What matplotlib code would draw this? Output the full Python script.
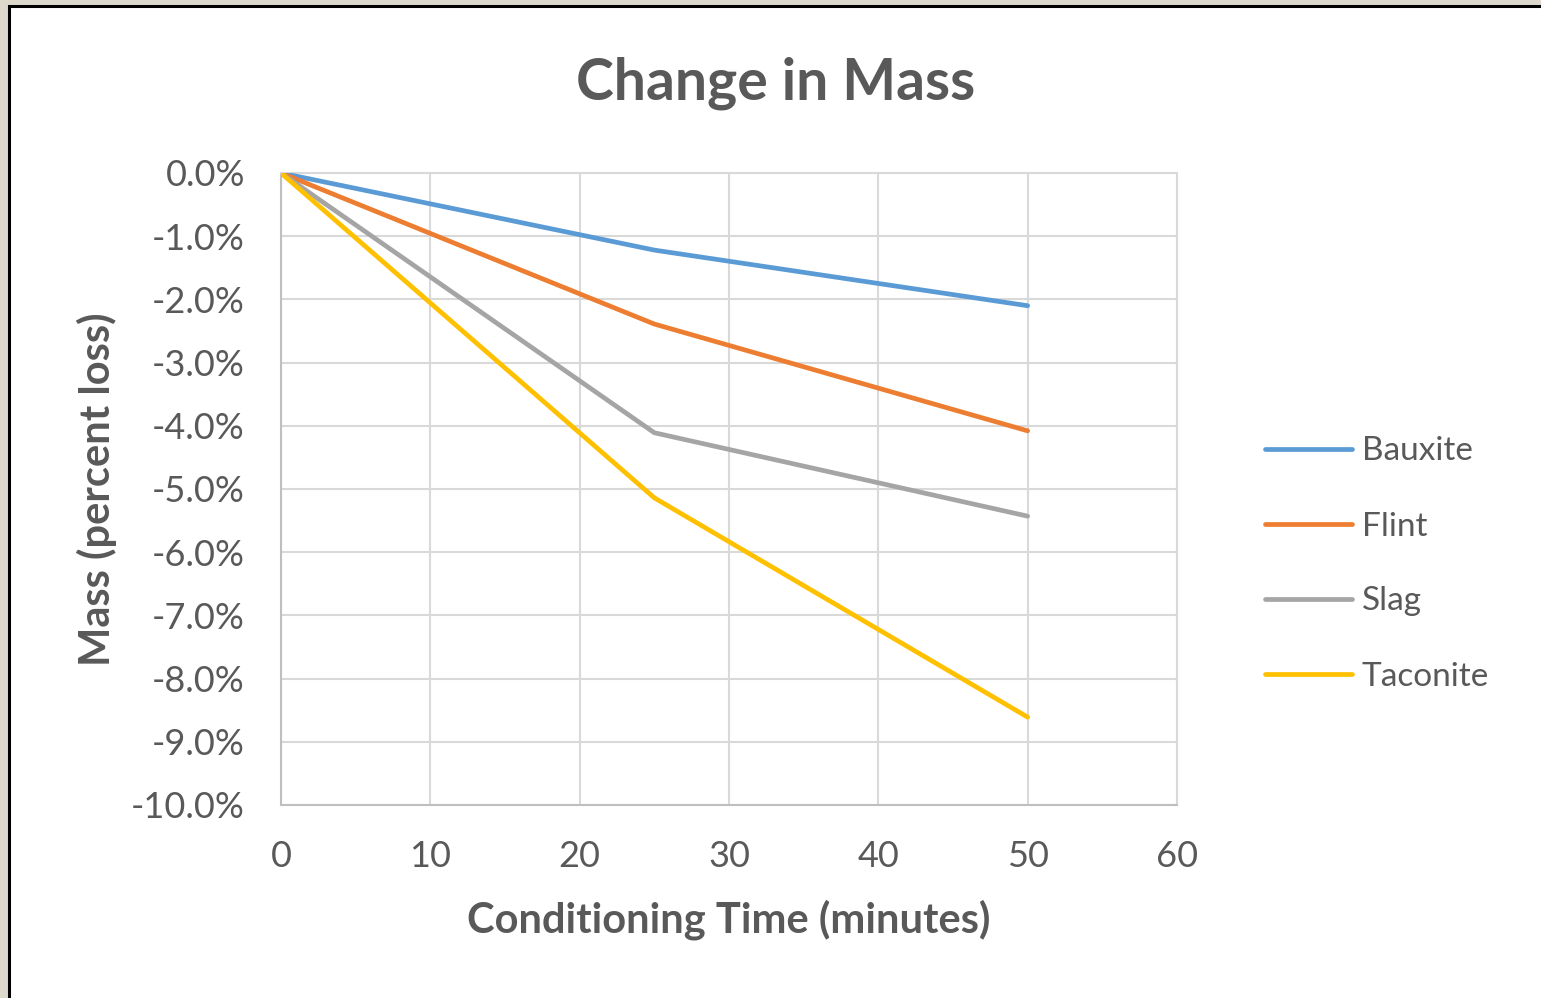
import numpy as np
import matplotlib.pyplot as plt
from matplotlib.patches import Rectangle
from matplotlib.ticker import FuncFormatter

plt.rcParams["font.family"] = ["Lato", "DejaVu Sans"]
plt.rcParams["axes.unicode_minus"] = False

# conditioning time (minutes) and mass change (%)
minutes = [0, 25, 50]
bauxite = [0.0, -1.22, -2.10]
flint = [0.0, -2.39, -4.08]
slag = [0.0, -4.11, -5.43]
taconite = [0.0, -5.14, -8.61]

series = [("Bauxite", bauxite, "#5B9BD5"),
          ("Flint", flint, "#ED7D31"),
          ("Slag", slag, "#A5A5A5"),
          ("Taconite", taconite, "#FFC000")]

x_ticks = [0, 10, 20, 30, 40, 50, 60]
y_ticks = np.arange(-10, 0.5, 1.0)

text_col = "#595959"
grid_col = "#d9d9d9"

fig = plt.figure(figsize=(15.41, 9.98), dpi=100, facecolor="#ddd8cc")
fig.patches.append(Rectangle((9/1541, -0.01), 1.0, 1 - 6/998 + 0.01,
                             transform=fig.transFigure, facecolor="white",
                             edgecolor="black", linewidth=2.2, zorder=-1))

ax = fig.add_axes([281/1541, 1 - 805/998, (1177 - 281)/1541, (805 - 173)/998])
ax.set_xlim(0, 60)
ax.set_ylim(-10, 0)
ax.set_xticks(x_ticks)
ax.set_yticks(y_ticks)
ax.yaxis.set_major_formatter(FuncFormatter(lambda v, p: "{:.1f}%".format(v)))
ax.grid(True, color=grid_col, linewidth=1.5)
ax.set_axisbelow(True)
for s in ax.spines.values():
    s.set_color(grid_col)
    s.set_linewidth(1.5)
ax.spines["left"].set_color("#bfbfbf")
ax.spines["bottom"].set_color("#bfbfbf")
ax.tick_params(length=0, labelsize=26, labelcolor=text_col)
ax.tick_params(axis="y", pad=26)
ax.tick_params(axis="x", pad=25)

for name, vals, col in series:
    ax.plot(minutes, vals, color=col, linewidth=3.4, label=name,
            solid_capstyle="round", solid_joinstyle="round", zorder=3)

ax.set_xlabel("Conditioning Time (minutes)", fontsize=30, fontweight="bold",
              color=text_col, labelpad=19)
ax.set_ylabel("Mass (percent loss)", fontsize=30, fontweight="bold",
              color=text_col, labelpad=10)
fig.text((281 + 1177)/2/1541 + 0.03, 1 - 83/998, "Change in Mass",
         fontsize=41, fontweight="bold", color=text_col,
         ha="center", va="center")

fig.legend(loc="center left", bbox_to_anchor=(1265/1541, 1 - 564/998),
           frameon=False, fontsize=24, labelcolor=text_col, handlelength=2.6,
           handletextpad=0.3, labelspacing=1.35, borderpad=0,
           borderaxespad=0)

fig.savefig("out.png", dpi=100, facecolor=fig.get_facecolor())
